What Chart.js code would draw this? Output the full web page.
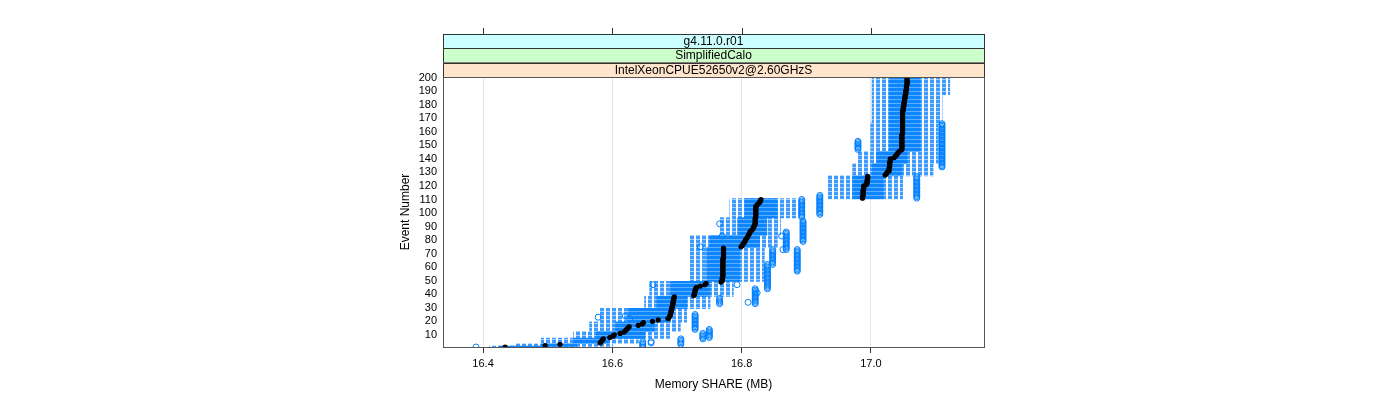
<!DOCTYPE html>
<html>
<head>
<meta charset="utf-8">
<script src="https://cdn.jsdelivr.net/npm/chart.js@4"></script>
<style>
  html, body { margin: 0; padding: 0; background: #fff; }
</style>
</head>
<body>
<canvas id="chart" width="1400" height="400"></canvas>
<script>
// ── Data ──────────────────────────────────────────────────────
const xTicks = [16.4, 16.6, 16.8, 17.0];
const yTicks = [10, 20, 30, 40, 50, 60, 70, 80, 90, 100,
                110, 120, 130, 140, 150, 160, 170, 180, 190, 200];
const stripLabels = ['g4.11.0.r01', 'SimplifiedCalo', 'IntelXeonCPUE52650v2@2.60GHzS'];

// box/whisker blocks: events blockFrom..blockTo share the same extents
const blockFrom = [1, 2, 4, 8, 13, 20, 30, 39, 50, 75, 84, 97, 111, 128, 137, 146, 167, 188];
const blockTo   = [1, 3, 7, 12, 19, 29, 38, 49, 74, 83, 96, 110, 127, 136, 145, 166, 187, 200];
const whiskerLo = [16.410, 16.450, 16.490, 16.540, 16.565, 16.580, 16.650, 16.658, 16.720,
                   16.720, 16.766, 16.782, 16.933, 16.972, 16.980, 17.000, 17.002, 17.002];
const boxLo     = [16.425, 16.490, 16.540, 16.575, 16.605, 16.625, 16.669, 16.690, 16.746,
                   16.751, 16.794, 16.805, 16.972, 17.002, 17.009, 17.029, 17.029, 17.029];
const boxHi     = [16.490, 16.545, 16.595, 16.650, 16.665, 16.690, 16.715, 16.751, 16.797,
                   16.828, 16.839, 16.855, 17.019, 17.048, 17.056, 17.076, 17.076, 17.076];
const whiskerHi = [16.540, 16.600, 16.640, 16.690, 16.705, 16.715, 16.751, 16.787, 16.835,
                   16.855, 16.860, 16.886, 17.049, 17.096, 17.104, 17.104, 17.110, 17.122];

// median per event, events 1..200
const medians = [
  16.434, 16.496, 16.519, 16.581, 16.583, 16.584, 16.586, 16.596, 16.601, 16.603,
  16.612, 16.618, 16.620, 16.622, 16.624, 16.626, 16.640, 16.646, 16.648, 16.662,
  16.671, 16.686, 16.688, 16.689, 16.690, 16.690, 16.691, 16.691, 16.692, 16.692,
  16.693, 16.693, 16.694, 16.694, 16.694, 16.695, 16.695, 16.696, 16.726, 16.727,
  16.727, 16.728, 16.728, 16.729, 16.730, 16.736, 16.743, 16.745, 16.768, 16.770,
  16.770, 16.770, 16.771, 16.771, 16.771, 16.771, 16.771, 16.771, 16.771, 16.771,
  16.771, 16.771, 16.771, 16.771, 16.771, 16.771, 16.772, 16.772, 16.772, 16.772,
  16.772, 16.772, 16.772, 16.772, 16.799, 16.801, 16.802, 16.804, 16.805, 16.806,
  16.807, 16.809, 16.810, 16.811, 16.812, 16.813, 16.815, 16.817, 16.818, 16.819,
  16.820, 16.821, 16.821, 16.821, 16.821, 16.821, 16.822, 16.822, 16.822, 16.822,
  16.822, 16.822, 16.822, 16.822, 16.822, 16.824, 16.826, 16.828, 16.829, 16.830,
  16.987, 16.987, 16.988, 16.988, 16.988, 16.988, 16.988, 16.989, 16.989, 16.989,
  16.993, 16.994, 16.994, 16.994, 16.995, 16.995, 16.995, 17.022, 17.024, 17.025,
  17.028, 17.028, 17.028, 17.029, 17.029, 17.029, 17.029, 17.030, 17.030, 17.030,
  17.036, 17.038, 17.040, 17.041, 17.043, 17.045, 17.048, 17.048, 17.048, 17.048,
  17.048, 17.048, 17.048, 17.048, 17.048, 17.048, 17.048, 17.048, 17.049, 17.049,
  17.049, 17.049, 17.049, 17.049, 17.049, 17.049, 17.049, 17.049, 17.049, 17.049,
  17.049, 17.049, 17.049, 17.049, 17.049, 17.050, 17.050, 17.050, 17.051, 17.051,
  17.051, 17.052, 17.052, 17.052, 17.053, 17.053, 17.053, 17.054, 17.054, 17.054,
  17.055, 17.055, 17.055, 17.055, 17.056, 17.056, 17.056, 17.056, 17.056, 17.056
];

// outliers: one circle per event in outlierFrom..outlierTo at outlierValue
const outlierValue = [17.071, 17.110, 16.980, 16.921, 16.893, 16.895, 16.869, 16.848, 16.886,
                      16.840, 16.821, 16.766, 16.740, 16.706, 16.647, 16.660, 16.728, 16.750,
                      16.389, 16.578, 16.620, 16.627, 16.663, 16.793, 16.810, 16.824, 16.766,
                      16.770, 16.736, 16.862, 16.864];
const outlierFrom  = [111, 134, 147, 99, 97, 79, 73, 62, 57, 44, 33, 33, 7, 3, 1, 4, 14, 8,
                      1, 23, 24, 22, 47, 47, 34, 41, 92, 83, 75, 83, 73];
const outlierTo    = [127, 166, 153, 113, 110, 94, 86, 73, 73, 62, 44, 37, 11, 7, 5, 5, 25, 14,
                      1, 23, 24, 22, 47, 47, 34, 41, 92, 83, 75, 83, 73];

// ── Build point tables ───────────────────────────────────────
const whiskerData = [], boxData = [], medianData = [], outlierData = [];
blockFrom.forEach((from, i) => {
    for (let e = from; e <= blockTo[i]; e++) {
        whiskerData.push({ x: [whiskerLo[i], whiskerHi[i]], y: e });
        boxData.push({ x: [boxLo[i], boxHi[i]], y: e });
    }
});
medians.forEach((m, i) => medianData.push({ x: m, y: i + 1 }));
outlierValue.forEach((v, i) => {
    for (let e = outlierFrom[i]; e <= outlierTo[i]; e++) outlierData.push({ x: v, y: e });
});

// ── Fill patterns (dashed whiskers / stacked box outlines) ───
const canvas = document.getElementById('chart');
const ctx = canvas.getContext('2d');
function makePattern(w, h, draw) {
    const c = document.createElement('canvas');
    c.width = w; c.height = h;
    draw(c.getContext('2d'));
    return ctx.createPattern(c, 'repeat');
}
const whiskerFill = makePattern(6, 4, g => {
    g.fillStyle = '#ffffff'; g.fillRect(0, 0, 6, 4);
    g.fillStyle = '#3d9bff'; g.fillRect(0, 0, 4, 3);
    g.fillStyle = '#a6d0ff'; g.fillRect(0, 3, 4, 1);
});
const boxFill = makePattern(1, 4, g => {
    g.fillStyle = '#0d85ff'; g.fillRect(0, 0, 1, 3);
    g.fillStyle = '#5caeff'; g.fillRect(0, 3, 1, 1);
});

// ── Strips, top ticks and panel frame ────────────────────────
const stripColors = ['#ccffff', '#ccffcc', '#ffe5cc'];
const panelDecor = {
    id: 'panelDecor',
    afterDraw(chart) {
        const { ctx: c, chartArea: a, scales: { x } } = chart;
        const h = 14.4;
        const stripTop = a.top - h * stripLabels.length;
        c.save();
        c.lineWidth = 1;
        stripLabels.forEach((txt, i) => {
            const top = stripTop + h * i;
            c.fillStyle = stripColors[i];
            c.fillRect(a.left, top, a.right - a.left, h);
            c.strokeStyle = '#333';
            c.strokeRect(Math.round(a.left) + 0.5, Math.round(top) + 0.5,
                         Math.round(a.right - a.left), Math.round(h));
            c.fillStyle = '#000';
            c.font = "12px 'Liberation Sans', Arial, sans-serif";
            c.textAlign = 'center';
            c.textBaseline = 'middle';
            c.fillText(txt, (a.left + a.right) / 2, top + h / 2 + 0.5);
        });
        c.strokeStyle = '#333';
        xTicks.forEach(v => {
            const px = Math.round(x.getPixelForValue(v)) + 0.5;
            c.beginPath();
            c.moveTo(px, Math.round(stripTop) - 6);
            c.lineTo(px, Math.round(stripTop));
            c.stroke();
        });
        c.strokeStyle = '#555';
        c.strokeRect(Math.round(a.left) + 0.5, Math.round(a.top) + 0.5,
                     Math.round(a.right - a.left), Math.round(a.bottom - a.top));
        c.restore();
    }
};

Chart.defaults.font.family = "'Liberation Sans', Arial, sans-serif";
Chart.defaults.font.size = 11;
Chart.defaults.color = '#000';

new Chart(ctx, {
    type: 'scatter',
    data: {
        datasets: [
            {
                type: 'scatter', label: 'median', data: medianData, order: 0,
                pointRadius: 2.6, pointBackgroundColor: '#000', pointBorderWidth: 0,
            },
            {
                type: 'scatter', label: 'outliers', data: outlierData, order: 1,
                pointRadius: 3, pointBackgroundColor: 'rgba(0,0,0,0)',
                pointBorderColor: '#0080ff', pointBorderWidth: 1,
            },
            {
                type: 'bar', label: 'box', data: boxData, order: 2, indexAxis: 'y',
                grouped: false, barThickness: 1.6, borderWidth: 0, backgroundColor: boxFill,
            },
            {
                type: 'bar', label: 'whiskers', data: whiskerData, order: 3, indexAxis: 'y',
                grouped: false, barThickness: 1.6, borderWidth: 0, backgroundColor: whiskerFill,
            },
        ],
    },
    options: {
        responsive: false,
        animation: false,
        layout: { padding: { left: 398, right: 416, top: 77, bottom: 0 } },
        plugins: { legend: { display: false }, tooltip: { enabled: false } },
        scales: {
            x: {
                type: 'linear', min: 16.338, max: 17.175,
                afterBuildTicks: s => { s.ticks = xTicks.map(v => ({ value: v })); },
                afterFit: s => { s.height = 53; },
                ticks: { padding: 4, autoSkip: false, callback: v => v.toFixed(1), font: { size: 11 } },
                grid: { color: '#e6e6e6', tickColor: '#333', tickLength: 6 },
                border: { display: false },
                title: { display: true, text: 'Memory SHARE (MB)', font: { size: 12 },
                         padding: { top: 0, bottom: 8 } },
            },
            y: {
                type: 'linear', min: 1.0, max: 200.5, offset: false,
                afterBuildTicks: s => { s.ticks = yTicks.map(v => ({ value: v })); },
                afterFit: s => { s.width = 45; },
                ticks: { padding: 6, autoSkip: false, font: { size: 11 } },
                grid: { display: false, drawTicks: false },
                border: { display: false },
                title: { display: true, text: 'Event Number', font: { size: 12 },
                         padding: 0 },
            },
        },
    },
    plugins: [panelDecor],
});
</script>
</body>
</html>
